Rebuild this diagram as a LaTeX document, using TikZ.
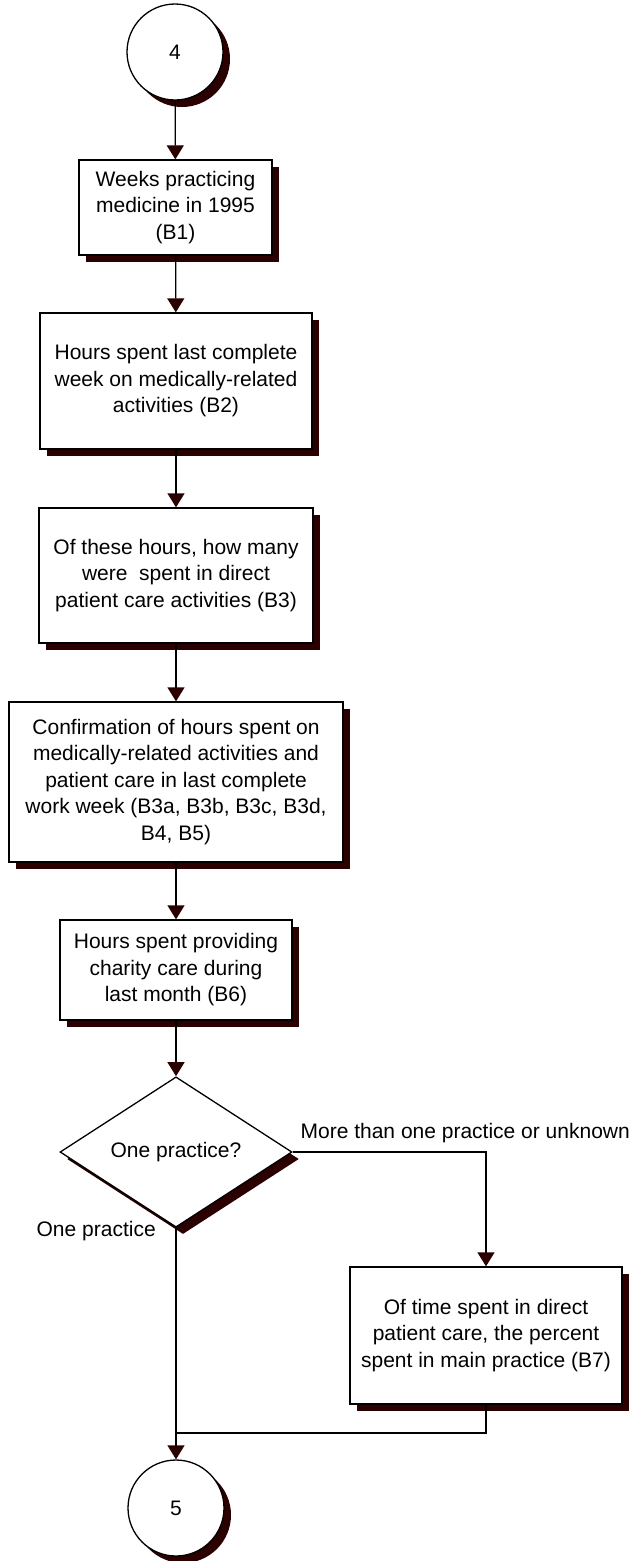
\documentclass[tikz,border=0pt]{standalone}
\usepackage{fontspec}
\setmainfont{Liberation Sans}
\usetikzlibrary{shapes.geometric,shadows,arrows.meta}
\definecolor{shadowc}{HTML}{2B0000}
\begin{document}
\begin{tikzpicture}[x=1pt,y=-1pt,
  font=\fontsize{21}{26.5}\selectfont,
  line width=1.3pt,
  shade/.style={drop shadow={shadow xshift=7pt,shadow yshift=-7pt,fill=shadowc,opacity=1}},
  stepbox/.style={draw,fill=white,shade,rectangle,align=center,inner sep=0pt},
  conn/.style={circle,draw,fill=white,shade,minimum size=96pt,inner sep=0pt},
  decide/.style={diamond,draw,fill=white,shade,minimum width=232pt,minimum height=116pt,inner sep=0pt},
  flow/.style={-{Triangle[length=14pt,width=17pt,color=shadowc]}},
  lbl/.style={inner sep=0pt,anchor=west}]
\useasboundingbox (0,0) rectangle (633,1561);

\node[conn] (c4) at (175,52) {4};
\node[stepbox,minimum width=193pt,minimum height=95pt] (b1) at (175.5,207.5)
  {Weeks practicing\\medicine in 1995\\(B1)};
\node[stepbox,minimum width=272pt,minimum height=136pt] (b2) at (176,381)
  {Hours spent last complete\\week on medically-related\\activities (B2)};
\node[stepbox,minimum width=274pt,minimum height=135pt] (b3) at (176,575.5)
  {Of these hours, how many\\were\ \ spent in direct\\patient care activities (B3)};
\node[stepbox,minimum width=334pt,minimum height=160pt] (b4) at (176,782)
  {Confirmation of hours spent on\\medically-related activities and\\patient care in last complete\\work week (B3a, B3b, B3c, B3d,\\B4, B5)};
\node[stepbox,minimum width=232pt,minimum height=100pt] (b6) at (176,970)
  {Hours spent providing\\charity care during\\last month (B6)};
\node[decide] (dia) at (176,1152) {One practice?};
\node[stepbox,minimum width=272pt,minimum height=137pt] (b7) at (486,1335.5)
  {Of time spent in direct\\patient care, the percent\\spent in main practice (B7)};
\node[conn] (c5) at (176,1508) {5};

\node[lbl] (lmore) at (300,1133) {More than one practice or unknown};
\node[lbl] (lone) at (36,1231) {One practice};

\coordinate (m) at (176,1433);

\draw[flow] (c4) -- (b1);
\draw[flow] (b1) -- (b2);
\draw[flow] (b2) -- (b3);
\draw[flow] (b3) -- (b4);
\draw[flow] (b4) -- (b6);
\draw[flow] (b6) -- (dia);
\draw[flow] (dia.east) -| (b7.north);
\draw[flow] (dia.south) -- (c5.north);
\draw (b7.south) |- (m);
\end{tikzpicture}
\end{document}
